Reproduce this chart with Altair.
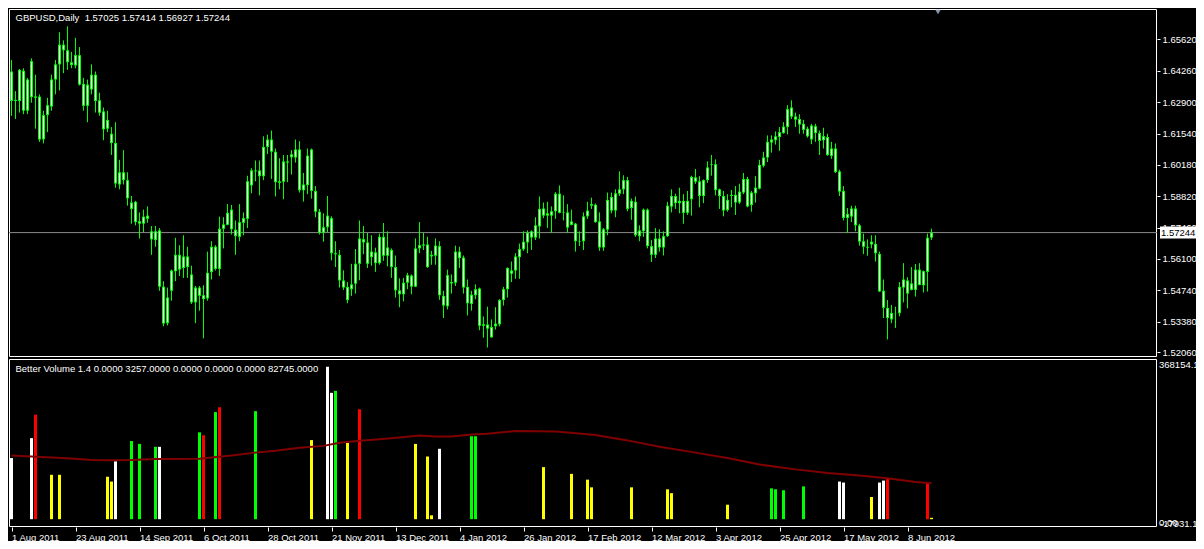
import altair as alt
import pandas as pd

# ---------------- data ----------------
open_ = [
    1.6423, 1.6295, 1.6295, 1.6426, 1.6253, 1.6468, 1.6315, 1.6314, 1.6129, 1.6234,
    1.6271, 1.6388, 1.6454, 1.6539, 1.6515, 1.6463, 1.6449, 1.6494, 1.6369, 1.6274,
    1.6345, 1.6409, 1.6298, 1.6250, 1.6175, 1.6153, 1.6113, 1.5933, 1.5986, 1.5952,
    1.5855, 1.5858, 1.5774, 1.5763, 1.5798, 1.5730, 1.5692, 1.5734, 1.5490, 1.5332,
    1.5472, 1.5557, 1.5628, 1.5571, 1.5621, 1.5543, 1.5422, 1.5486, 1.5453, 1.5439,
    1.5553, 1.5663, 1.5567, 1.5741, 1.5758, 1.5824, 1.5737, 1.5706, 1.5767, 1.5784,
    1.5929, 1.5994, 1.5994, 1.5969, 1.6096, 1.6128, 1.6075, 1.5940, 1.5945, 1.6033,
    1.6051, 1.6050, 1.6085, 1.5908, 1.5930, 1.6085, 1.5905, 1.5815, 1.5724, 1.5748,
    1.5787, 1.5635, 1.5628, 1.5517, 1.5489, 1.5479, 1.5503, 1.5589, 1.5696, 1.5682,
    1.5618, 1.5639, 1.5592, 1.5706, 1.5624, 1.5649, 1.5575, 1.5474, 1.5457, 1.5507,
    1.5538, 1.5490, 1.5656, 1.5668, 1.5673, 1.5621, 1.5624, 1.5666, 1.5450, 1.5405,
    1.5510, 1.5507, 1.5642, 1.5616, 1.5489, 1.5415, 1.5453, 1.5482, 1.5320, 1.5326,
    1.5315, 1.5318, 1.5327, 1.5432, 1.5479, 1.5560, 1.5560, 1.5618, 1.5652, 1.5682,
    1.5730, 1.5703, 1.5751, 1.5829, 1.5798, 1.5798, 1.5817, 1.5893, 1.5810, 1.5812,
    1.5758, 1.5763, 1.5687, 1.5687, 1.5795, 1.5841, 1.5845, 1.5773, 1.5660, 1.5737,
    1.5879, 1.5820, 1.5893, 1.5912, 1.5952, 1.5831, 1.5858, 1.5709, 1.5731, 1.5824,
    1.5666, 1.5628, 1.5699, 1.5660, 1.5709, 1.5837, 1.5883, 1.5852, 1.5862, 1.5810,
    1.5869, 1.5964, 1.5947, 1.5883, 1.5952, 1.6018, 1.6021, 1.5912, 1.5883, 1.5822,
    1.5883, 1.5888, 1.5855, 1.5898, 1.5957, 1.5844, 1.5895, 1.5915, 1.6014, 1.6050,
    1.6115, 1.6125, 1.6139, 1.6156, 1.6182, 1.6267, 1.6228, 1.6217, 1.6196, 1.6175,
    1.6128, 1.6186, 1.6156, 1.6125, 1.6139, 1.6057, 1.6089, 1.5990, 1.5905, 1.5788,
    1.5794, 1.5829, 1.5756, 1.5687, 1.5663, 1.5673, 1.5675, 1.5632, 1.5472, 1.5398,
    1.5348, 1.5376, 1.5375, 1.5486, 1.5517, 1.5476, 1.5476, 1.5564, 1.5496, 1.5554,
    1.57025,
]
high = [
    1.6473, 1.6338, 1.6434, 1.6437, 1.6395, 1.6480, 1.6409, 1.6324, 1.6253, 1.6309,
    1.6409, 1.6473, 1.6593, 1.6558, 1.6619, 1.6508, 1.6569, 1.6529, 1.6395, 1.6388,
    1.6454, 1.6423, 1.6331, 1.6267, 1.6253, 1.6182, 1.6203, 1.6040, 1.6082, 1.5986,
    1.5883, 1.5862, 1.5812, 1.5824, 1.5838, 1.5753, 1.5753, 1.5744, 1.5514, 1.5486,
    1.5564, 1.5702, 1.5670, 1.5713, 1.5663, 1.5581, 1.5493, 1.5493, 1.5496, 1.5642,
    1.5687, 1.5670, 1.5794, 1.5791, 1.5848, 1.5844, 1.5777, 1.5848, 1.5812, 1.5971,
    1.6004, 1.6037, 1.6037, 1.6142, 1.6149, 1.6167, 1.6089, 1.6047, 1.6061, 1.6061,
    1.6082, 1.6128, 1.6121, 1.5983, 1.6089, 1.6089, 1.5926, 1.5827, 1.5808, 1.5883,
    1.5795, 1.5687, 1.5649, 1.5561, 1.5510, 1.5589, 1.5653, 1.5777, 1.5753, 1.5723,
    1.5713, 1.5659, 1.5720, 1.5766, 1.5730, 1.5656, 1.5625, 1.5526, 1.5528, 1.5550,
    1.5543, 1.5699, 1.5770, 1.5723, 1.5706, 1.5645, 1.5699, 1.5687, 1.5472, 1.5564,
    1.5543, 1.5668, 1.5663, 1.5625, 1.5521, 1.5472, 1.5500, 1.5486, 1.5361, 1.5403,
    1.5348, 1.5401, 1.5436, 1.5489, 1.5574, 1.5599, 1.5635, 1.5677, 1.5730, 1.5734,
    1.5734, 1.5791, 1.5881, 1.5855, 1.5858, 1.5838, 1.5900, 1.5929, 1.5886, 1.5848,
    1.5824, 1.5766, 1.5730, 1.5812, 1.5858, 1.5876, 1.5851, 1.5812, 1.5744, 1.5898,
    1.5898, 1.5912, 1.5990, 1.5973, 1.5966, 1.5872, 1.5881, 1.5756, 1.5829, 1.5829,
    1.5692, 1.5744, 1.5739, 1.5730, 1.5858, 1.5912, 1.5893, 1.5919, 1.5891, 1.5905,
    1.5971, 1.6000, 1.5969, 1.5955, 1.6033, 1.6061, 1.6042, 1.5915, 1.5905, 1.5891,
    1.5909, 1.5926, 1.5936, 1.5983, 1.5966, 1.5905, 1.5969, 1.6040, 1.6075, 1.6146,
    1.6146, 1.6163, 1.6182, 1.6203, 1.6277, 1.6298, 1.6245, 1.6238, 1.6213, 1.6184,
    1.6196, 1.6196, 1.6167, 1.6179, 1.6153, 1.6118, 1.6111, 1.5997, 1.5926, 1.5831,
    1.5841, 1.5841, 1.5763, 1.5720, 1.5695, 1.5713, 1.5713, 1.5642, 1.5521, 1.5432,
    1.5411, 1.5403, 1.5510, 1.5592, 1.5531, 1.5575, 1.5588, 1.5592, 1.5560, 1.5720,
    1.57414,
]
low = [
    1.6231, 1.6217, 1.6245, 1.6238, 1.6238, 1.6288, 1.6175, 1.6118, 1.6111, 1.6160,
    1.6253, 1.6324, 1.6341, 1.6416, 1.6430, 1.6437, 1.6437, 1.6362, 1.6253, 1.6203,
    1.6324, 1.6245, 1.6231, 1.6125, 1.6160, 1.6061, 1.5919, 1.5912, 1.5933, 1.5841,
    1.5763, 1.5756, 1.5699, 1.5727, 1.5767, 1.5628, 1.5663, 1.5472, 1.5318, 1.5322,
    1.5429, 1.5514, 1.5536, 1.5528, 1.5528, 1.5415, 1.5332, 1.5386, 1.5266, 1.5429,
    1.5521, 1.5560, 1.5536, 1.5656, 1.5756, 1.5716, 1.5628, 1.5687, 1.5713, 1.5744,
    1.5895, 1.5947, 1.5886, 1.5952, 1.6065, 1.5957, 1.5881, 1.5912, 1.5869, 1.5943,
    1.5976, 1.6028, 1.5898, 1.5859, 1.5891, 1.5872, 1.5791, 1.5716, 1.5685, 1.5727,
    1.5604, 1.5575, 1.5486, 1.5476, 1.5418, 1.5450, 1.5460, 1.5518, 1.5631, 1.5571,
    1.5581, 1.5554, 1.5585, 1.5602, 1.5578, 1.5528, 1.5443, 1.5401, 1.5426, 1.5479,
    1.5457, 1.5488, 1.5635, 1.5649, 1.5571, 1.5585, 1.5585, 1.5433, 1.5354, 1.5391,
    1.5460, 1.5493, 1.5571, 1.5460, 1.5365, 1.5386, 1.5436, 1.5301, 1.5269, 1.5226,
    1.5269, 1.5304, 1.5318, 1.5408, 1.5443, 1.5510, 1.5524, 1.5524, 1.5645, 1.5635,
    1.5649, 1.5692, 1.5699, 1.5787, 1.5744, 1.5724, 1.5784, 1.5808, 1.5777, 1.5724,
    1.5756, 1.5642, 1.5666, 1.5649, 1.5784, 1.5827, 1.5767, 1.5645, 1.5645, 1.5713,
    1.5808, 1.5791, 1.5883, 1.5891, 1.5817, 1.5780, 1.5706, 1.5687, 1.5706, 1.5656,
    1.5597, 1.5614, 1.5642, 1.5625, 1.5706, 1.5812, 1.5827, 1.5808, 1.5763, 1.5801,
    1.5798, 1.5936, 1.5834, 1.5852, 1.5940, 1.5971, 1.5886, 1.5827, 1.5795, 1.5815,
    1.5834, 1.5801, 1.5848, 1.5891, 1.5834, 1.5815, 1.5855, 1.5912, 1.6007, 1.6030,
    1.6071, 1.6106, 1.6079, 1.6153, 1.6150, 1.6217, 1.6182, 1.6153, 1.6153, 1.6136,
    1.6108, 1.6118, 1.6061, 1.6089, 1.6057, 1.6044, 1.5983, 1.5883, 1.5777, 1.5724,
    1.5770, 1.5730, 1.5668, 1.5631, 1.5624, 1.5656, 1.5599, 1.5467, 1.5354, 1.5261,
    1.5332, 1.5311, 1.5361, 1.5422, 1.5396, 1.5474, 1.5447, 1.5496, 1.5465, 1.5469,
    1.56927,
]
close = [
    1.6295, 1.6300, 1.6430, 1.6253, 1.6388, 1.6312, 1.6309, 1.6128, 1.6234, 1.6277,
    1.6388, 1.6454, 1.6539, 1.6515, 1.6463, 1.6451, 1.6494, 1.6366, 1.6274, 1.6366,
    1.6409, 1.6295, 1.6244, 1.6172, 1.6213, 1.6113, 1.5937, 1.5986, 1.5952, 1.5873,
    1.5827, 1.5770, 1.5763, 1.5794, 1.5784, 1.5695, 1.5730, 1.5490, 1.5330, 1.5443,
    1.5560, 1.5628, 1.5564, 1.5621, 1.5575, 1.5422, 1.5486, 1.5450, 1.5436, 1.5550,
    1.5663, 1.5567, 1.5741, 1.5760, 1.5810, 1.5739, 1.5709, 1.5770, 1.5787, 1.5947,
    1.5994, 1.5990, 1.5969, 1.6096, 1.6128, 1.6075, 1.5943, 1.5947, 1.6033, 1.6028,
    1.6064, 1.6085, 1.5908, 1.5933, 1.6058, 1.5905, 1.5815, 1.5724, 1.5748, 1.5798,
    1.5635, 1.5630, 1.5517, 1.5486, 1.5432, 1.5500, 1.5589, 1.5699, 1.5682, 1.5589,
    1.5642, 1.5592, 1.5706, 1.5624, 1.5660, 1.5575, 1.5474, 1.5457, 1.5507, 1.5540,
    1.5490, 1.5656, 1.5670, 1.5673, 1.5575, 1.5628, 1.5668, 1.5453, 1.5408, 1.5540,
    1.5504, 1.5642, 1.5614, 1.5486, 1.5418, 1.5455, 1.5479, 1.5320, 1.5327, 1.5308,
    1.5270, 1.5330, 1.5432, 1.5479, 1.5571, 1.5546, 1.5621, 1.5653, 1.5685, 1.5724,
    1.5703, 1.5756, 1.5827, 1.5798, 1.5808, 1.5817, 1.5893, 1.5810, 1.5812, 1.5746,
    1.5773, 1.5687, 1.5685, 1.5795, 1.5820, 1.5848, 1.5770, 1.5660, 1.5739, 1.5866,
    1.5820, 1.5895, 1.5912, 1.5952, 1.5827, 1.5862, 1.5713, 1.5734, 1.5824, 1.5666,
    1.5628, 1.5699, 1.5660, 1.5709, 1.5841, 1.5883, 1.5852, 1.5862, 1.5810, 1.5862,
    1.5966, 1.5945, 1.5883, 1.5952, 1.6007, 1.6021, 1.5909, 1.5883, 1.5820, 1.5866,
    1.5888, 1.5855, 1.5902, 1.5957, 1.5838, 1.5898, 1.5919, 1.6018, 1.6050, 1.6118,
    1.6128, 1.6142, 1.6160, 1.6184, 1.6260, 1.6227, 1.6214, 1.6193, 1.6170, 1.6142,
    1.6189, 1.6156, 1.6122, 1.6143, 1.6061, 1.6089, 1.5987, 1.5902, 1.5788, 1.5805,
    1.5829, 1.5756, 1.5685, 1.5663, 1.5659, 1.5685, 1.5635, 1.5469, 1.5398, 1.5354,
    1.5376, 1.5375, 1.5489, 1.5521, 1.5460, 1.5504, 1.5564, 1.5497, 1.5557, 1.5702,
    1.57244,
]

# date labels every 16 trading days
tick_bars = [0, 16, 32, 48, 64, 80, 96, 112, 128, 144, 160, 176, 192, 208, 224]
tick_labels = [
    "1 Aug 2011", "23 Aug 2011", "14 Sep 2011", "6 Oct 2011", "28 Oct 2011",
    "21 Nov 2011", "13 Dec 2011", "4 Jan 2012", "26 Jan 2012", "17 Feb 2012",
    "12 Mar 2012", "3 Apr 2012", "25 Apr 2012", "17 May 2012", "8 Jun 2012",
]
price_ticks = [1.65620, 1.64260, 1.62900, 1.61540, 1.60180, 1.58820,
               1.57460, 1.56100, 1.54740, 1.53380, 1.52060]

# Better Volume: visible (coloured) bars only
vol_bar = [0, 5, 6, 10, 12, 24, 25, 26, 30, 32, 36, 37, 47, 48, 51, 52, 61, 75,
           79, 80, 81, 84, 87, 101, 104, 105, 107, 115, 116, 133, 140, 144, 145,
           155, 164, 165, 179, 190, 191, 193, 198, 207, 208, 215, 217, 218, 219,
           229, 230]
vol_value = [140500, 186300, 240200, 102000, 102000, 97600, 86500, 133000,
             179600, 173000, 166300, 166300, 199600, 192900, 246100, 257200,
             248300, 181800, 350300, 290400, 294900, 175100, 252700, 173000,
             144100, 8900, 161800, 190700, 190700, 119700, 104200, 90900, 73200,
             73200, 68700, 59900, 33300, 70900, 68700, 66500, 75400, 86500,
             84200, 51000, 84200, 88700, 93100, 82000, 3257]
vol_kind = ["white", "white", "red", "yellow", "yellow", "yellow", "yellow",
            "white", "green", "green", "green", "white", "green", "red", "green",
            "red", "green", "yellow", "white", "white", "green", "yellow", "red",
            "yellow", "yellow", "yellow", "white", "green", "green",
            "yellow", "yellow", "yellow", "yellow", "yellow", "yellow", "yellow",
            "yellow", "green", "green", "green", "green", "white", "white",
            "yellow", "white", "white", "red", "red", "yellow"]

# volume moving average (read at anchor bars)
ma_bar = [0, 10, 15, 20, 25, 30, 36, 47, 50, 55, 61, 66, 72, 78, 82, 87, 92, 97,
          102, 106, 110, 115, 119, 126, 136, 139, 146, 154, 162, 171, 179, 187,
          196, 204, 212, 219, 226, 230]
ma_value = [146300, 141900, 139700, 136000, 135200, 136000, 138200, 138900,
            141900, 146300, 153000, 157400, 164100, 168500, 175900, 180300,
            184000, 187700, 192100, 189900, 189900, 194400, 196600, 202500,
            201700, 199500, 193600, 181100, 166300, 153000, 140400, 125600,
            114500, 106400, 100500, 93900, 85700, 82745]

last_close = 1.57244
header = "GBPUSD,Daily\u00a0 1.57025 1.57414 1.56927 1.57244"
vol_header = "Better Volume 1.4 0.0000 3257.0000 0.0000 0.0000 0.0000 82745.0000"
vol_max_label = "368154.1"
vol_zero_label = "0.00"
vol_min_label = "-17931.1"

# ---------------- layout ----------------
W, H = 1148, 518
P_TOP, P_BOT = 0, 348
V_TOP, V_BOT = 350, 518
FONT = "Liberation Sans"
FS = 9.5
WHITE = "#FFFFFF"
GREEN = "#00FF00"

candles = pd.DataFrame({"bar": list(range(len(close))), "open": open_,
                        "high": high, "low": low, "close": close})
vol = pd.DataFrame({"bar": vol_bar, "volume": vol_value, "kind": vol_kind})
ma = pd.DataFrame({"bar": ma_bar, "ma": ma_value})
last_df = pd.DataFrame({"price": [last_close], "label": [f"{last_close:.5f}"]})
one = pd.DataFrame({"t": [header], "v": [vol_header], "a": [vol_max_label],
                    "z": [vol_zero_label], "m": [vol_min_label]})

xscale = alt.Scale(domain=[-0.625, 286.375], nice=False, zero=False, padding=0)
pscale = alt.Scale(domain=[1.5185, 1.6694], range=[P_BOT, P_TOP], nice=False, zero=False)
vscale = alt.Scale(domain=[-17931.1, 368154.1], range=[V_BOT, V_TOP], nice=False, zero=False)

label_expr = "[" + ",".join(f"'{s}'" for s in tick_labels) + "][round(datum.value / 16)]"

xaxis = alt.Axis(values=tick_bars, labelExpr=label_expr, orient="bottom",
                 tickSize=4, tickColor=WHITE, labelColor=WHITE, labelFont=FONT,
                 labelFontSize=FS, labelAlign="left", labelBaseline="top",
                 labelPadding=1, labelFlush=False, labelOverlap=False,
                 domain=False, grid=False, title="")
paxis = alt.Axis(values=price_ticks, format=".5f", orient="right", tickSize=3,
                 tickColor=WHITE, labelColor=WHITE, labelFont=FONT,
                 labelFontSize=FS, labelPadding=2, labelFlush=False,
                 labelOverlap=False, domain=False, grid=False, title="")

X = alt.X("bar:Q", scale=xscale, title="")

def text_layer(field, x, y, color=WHITE):
    return alt.Chart(one).mark_text(align="left", baseline="middle", font=FONT,
                                    fontSize=FS, color=color).encode(
        x=alt.value(x), y=alt.value(y), text=f"{field}:N")

# ---- price panel ----
border_p = alt.Chart(one).mark_rect(fillOpacity=0, stroke=WHITE, strokeWidth=1).encode(
    x=alt.value(0.5), x2=alt.value(W - 0.5), y=alt.value(P_TOP + 0.5), y2=alt.value(P_BOT - 0.5))

close_line = alt.Chart(last_df).mark_rule(color="#8C8C8C", strokeWidth=1).encode(
    y=alt.Y("price:Q", scale=pscale, axis=paxis))

wicks = alt.Chart(candles).mark_rule(color=GREEN, strokeWidth=1).encode(
    x=alt.X("bar:Q", scale=xscale, axis=xaxis),
    y=alt.Y("high:Q", scale=pscale, title=""), y2="low:Q")

# green body (3 px) with a 1 px white core
bodies = alt.Chart(candles).mark_bar(width=3, color=GREEN).encode(
    x=X, y=alt.Y("open:Q", scale=pscale, title=""), y2="close:Q")

cores = alt.Chart(candles).transform_calculate(
    top="max(datum.open, datum.close)", bot="min(datum.open, datum.close)"
).transform_filter("datum.top - datum.bot > 0.0009").mark_rule(
    color=WHITE, strokeWidth=1, yOffset=1, y2Offset=-1).encode(
    x=X, y=alt.Y("top:Q", scale=pscale, title=""), y2="bot:Q")

box = alt.Chart(last_df).mark_rect(color=WHITE, yOffset=-6, y2Offset=6).encode(
    x=alt.value(W + 3), x2=alt.value(W + 40),
    y=alt.Y("price:Q", scale=pscale, title=""), y2="price:Q")
box_text = alt.Chart(last_df).mark_text(align="left", baseline="middle", font=FONT,
                                        fontSize=FS, color="#000000").encode(
    x=alt.value(W + 4), y=alt.Y("price:Q", scale=pscale, title=""), text="label:N")

tri = alt.Chart(one).mark_point(shape="triangle-down", filled=True, size=30,
                                color="#8796A8", opacity=1).encode(
    x=alt.value(929), y=alt.value(3))

price = alt.layer(border_p, close_line, wicks, bodies, cores, box, box_text,
                  text_layer("t", 6.5, 9), tri)

# ---- volume panel ----
border_v = alt.Chart(one).mark_rect(fillOpacity=0, stroke=WHITE, strokeWidth=1).encode(
    x=alt.value(0.5), x2=alt.value(W - 0.5), y=alt.value(V_TOP + 0.5), y2=alt.value(V_BOT - 0.5))

vbars = alt.Chart(vol).transform_calculate(base="0").mark_bar(width=3).encode(
    x=X, y=alt.Y("volume:Q", scale=vscale, axis=None), y2="base:Q",
    color=alt.Color("kind:N", legend=None,
                    scale=alt.Scale(domain=["white", "red", "yellow", "green"],
                                    range=["#FFFFFF", "#FF0000", "#FFFF00", "#00FF00"])))

ma_line = alt.Chart(ma).mark_line(color="#800000", strokeWidth=2).encode(
    x=X, y=alt.Y("ma:Q", scale=vscale, axis=None))

volume = alt.layer(border_v, vbars, ma_line,
                   text_layer("v", 6.5, V_TOP + 10),
                   text_layer("a", W + 2, V_TOP + 6),
                   text_layer("z", W + 2, V_BOT - 4),
                   text_layer("m", W + 3, V_BOT - 3))

chart = alt.layer(price, volume).resolve_scale(y="independent").properties(
    width=W, height=H,
    padding={"left": 1, "top": 1, "right": 39, "bottom": 14},
    autosize=alt.AutoSizeParams(type="none"),
    background="#000000",
).configure_view(strokeWidth=0)

chart.save("out.html", embed_options={"renderer": "svg", "actions": False})
